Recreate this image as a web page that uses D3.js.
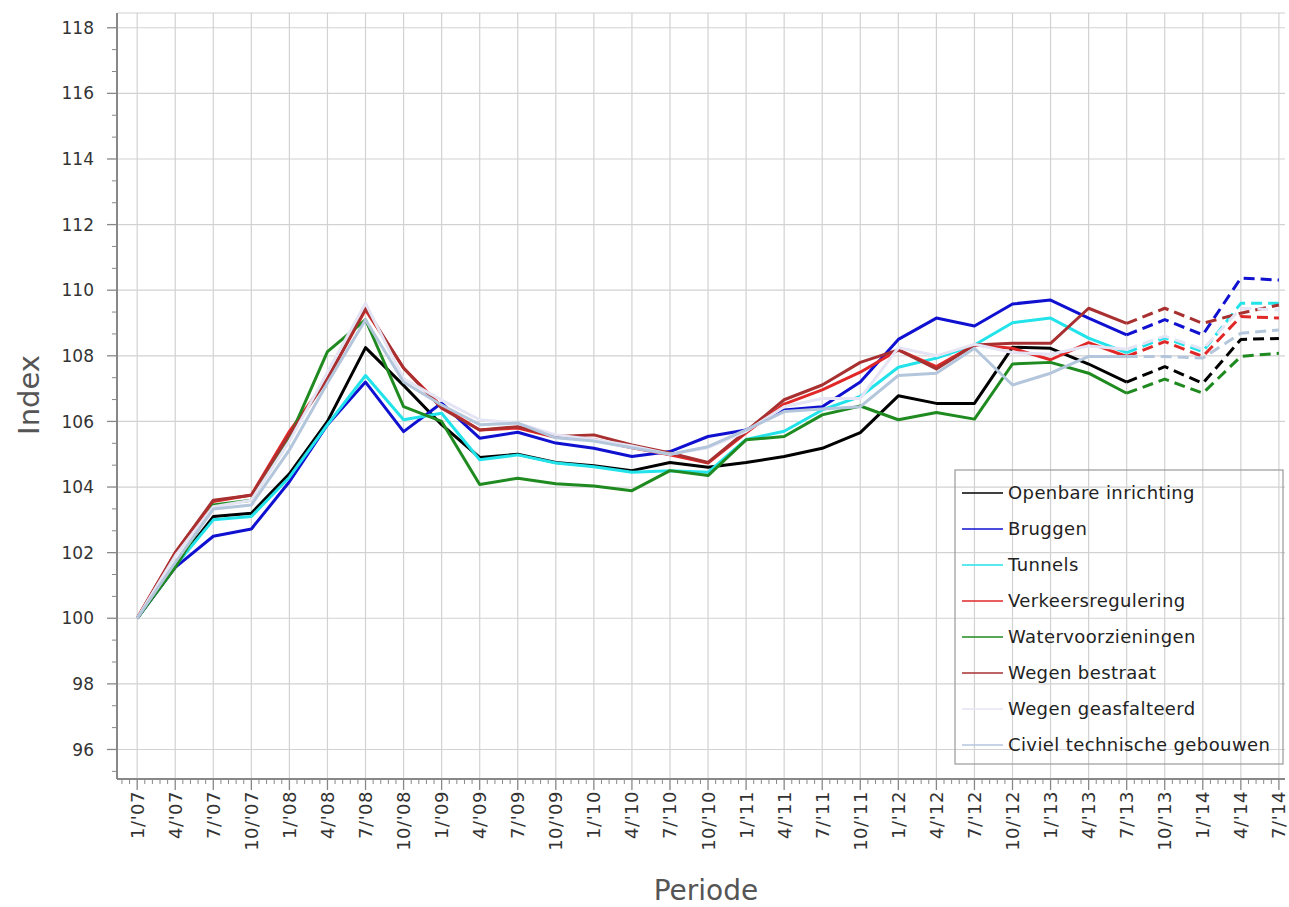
<!DOCTYPE html>
<html lang="nl">
<head>
<meta charset="UTF-8">
<title>Index per periode</title>
<script src="https://cdn.jsdelivr.net/npm/d3@7/dist/d3.min.js"></script>
<style>
  body { margin: 0; background: #fff; }
  svg { display: block; font-family: "DejaVu Sans", sans-serif; }
</style>
</head>
<body>
<svg width="1289" height="907"></svg>
<script>
// periods (quarterly)
var periods = ["1/'07","4/'07","7/'07","10/'07","1/'08","4/'08","7/'08","10/'08","1/'09","4/'09",
  "7/'09","10/'09","1/'10","4/'10","7/'10","10/'10","1/'11","4/'11","7/'11","10/'11",
  "1/'12","4/'12","7/'12","10/'12","1/'13","4/'13","7/'13","10/'13","1/'14","4/'14","7/'14"];

var seriesNames = ["Openbare inrichting","Bruggen","Tunnels","Verkeersregulering",
  "Watervoorzieningen","Wegen bestraat","Wegen geasfalteerd","Civiel technische gebouwen"];
var seriesColors = ["#000000","#1010d0","#22e2ea","#e02828","#1f8a1f","#a83030","#e4e4f4","#b4c6dc"];

var openbare = [100,101.6,103.1,103.2,104.4,106.0,108.25,107.1,105.9,104.9,105.0,104.75,104.65,104.5,104.75,104.6,
  104.75,104.93,105.18,105.66,106.78,106.55,106.55,108.26,108.23,107.75,107.2,107.67,107.16,108.5,108.53];
var bruggen = [100,101.55,102.5,102.72,104.16,105.9,107.2,105.69,106.56,105.49,105.67,105.34,105.18,104.93,105.08,105.54,
  105.74,106.35,106.45,107.2,108.5,109.15,108.91,109.58,109.7,109.15,108.64,109.1,108.64,110.37,110.31];
var tunnels = [100,101.6,103.0,103.1,104.3,105.9,107.4,106.05,106.25,104.83,104.98,104.73,104.62,104.45,104.5,104.45,
  105.45,105.7,106.35,106.76,107.65,107.93,108.33,109.01,109.15,108.54,108.1,108.55,108.13,109.6,109.6];
var verkeer = [100,102.0,103.56,103.76,105.7,107.3,109.4,107.63,106.45,105.74,105.8,105.52,105.45,105.2,104.98,104.73,
  105.65,106.53,106.96,107.5,108.18,107.67,108.33,108.23,107.88,108.4,107.98,108.43,107.98,109.2,109.15];
var water = [100,101.55,103.45,103.6,105.5,108.13,109.1,106.45,106.0,104.08,104.27,104.1,104.03,103.89,104.5,104.35,
  105.44,105.54,106.2,106.47,106.05,106.27,106.07,107.75,107.8,107.47,106.86,107.29,106.86,107.98,108.08];
var bestraat = [100,102.0,103.6,103.75,105.6,107.3,109.45,107.63,106.4,105.74,105.84,105.54,105.59,105.28,105.04,104.75,
  105.7,106.66,107.11,107.8,108.18,107.6,108.33,108.38,108.38,109.45,108.99,109.45,108.99,109.3,109.55];
var geasfalteerd = [100,101.9,103.4,103.6,105.4,107.5,109.6,107.3,106.65,106.05,105.95,105.59,105.45,105.25,105.0,105.2,
  105.7,106.45,106.7,106.7,108.25,108.0,108.35,108.1,108.05,108.3,108.2,108.6,108.2,109.45,109.4];
var civiel = [100,101.7,103.33,103.45,105.13,107.17,109.1,107.2,106.5,105.9,105.95,105.5,105.4,105.2,105.0,105.23,
  105.74,106.3,106.38,106.45,107.4,107.47,108.23,107.11,107.47,107.98,107.98,107.98,107.93,108.69,108.79];

var seriesValues = [openbare, bruggen, tunnels, verkeer, water, bestraat, geasfalteerd, civiel];
var yTicks = [96,98,100,102,104,106,108,110,112,114,116,118];
var dashFrom = 26; // from 7/'13 onwards the lines are dashed

var svg = d3.select("svg");
var pLeft = 117, pRight = 1285, pTop = 13, pBottom = 779;

var x = d3.scaleLinear().domain([-0.53, 30.16]).range([pLeft, pRight]);
var y = d3.scaleLinear().domain([95.1, 118.45]).range([pBottom, pTop]);

// grid
var grid = svg.append("g");
grid.selectAll(".hg").data(yTicks).enter().append("line")
  .attr("x1", pLeft).attr("x2", pRight)
  .attr("y1", d => y(d)).attr("y2", d => y(d))
  .attr("stroke", "#d2d2d2").attr("stroke-width", 1.2);
grid.selectAll(".vg").data(periods).enter().append("line")
  .attr("x1", (d, i) => x(i)).attr("x2", (d, i) => x(i))
  .attr("y1", pTop).attr("y2", pBottom)
  .attr("stroke", "#d2d2d2").attr("stroke-width", 1.2);
grid.append("line").attr("x1", pLeft).attr("x2", pRight).attr("y1", pTop).attr("y2", pTop)
  .attr("stroke", "#d0d0d0").attr("stroke-width", 1.2);

// minor ticks
var yMinor = d3.range(95 + 1/3, 118.45, 2/3).filter(v => Math.abs(v - Math.round(v / 2) * 2) > 0.1);
svg.append("g").selectAll("line").data(yMinor).enter().append("line")
  .attr("x1", pLeft - 5).attr("x2", pLeft)
  .attr("y1", d => y(d)).attr("y2", d => y(d))
  .attr("stroke", "#888").attr("stroke-width", 1);
var xMinor = d3.range(-0.4, 30.1, 0.2).filter(v => Math.abs(v - Math.round(v)) > 0.05);
svg.append("g").selectAll("line").data(xMinor).enter().append("line")
  .attr("x1", d => x(d)).attr("x2", d => x(d))
  .attr("y1", pBottom).attr("y2", pBottom + 5)
  .attr("stroke", "#888").attr("stroke-width", 1);

// y axis
svg.append("g").selectAll("line").data(yTicks).enter().append("line")
  .attr("x1", pLeft - 10).attr("x2", pLeft)
  .attr("y1", d => y(d)).attr("y2", d => y(d))
  .attr("stroke", "#888").attr("stroke-width", 1.3);
svg.append("g").selectAll("text").data(yTicks).enter().append("text")
  .attr("x", pLeft - 23).attr("y", d => y(d)).attr("dy", "0.36em")
  .attr("text-anchor", "end").attr("font-size", 17).attr("fill", "#333")
  .text(d => d);

// x axis
svg.append("g").selectAll("line").data(periods).enter().append("line")
  .attr("x1", (d, i) => x(i)).attr("x2", (d, i) => x(i))
  .attr("y1", pBottom).attr("y2", pBottom + 11)
  .attr("stroke", "#888").attr("stroke-width", 1.3);
svg.append("g").selectAll("text").data(periods).enter().append("text")
  .attr("transform", (d, i) => "translate(" + x(i) + "," + (pBottom + 12) + ") rotate(-90)")
  .attr("dy", "0.36em").attr("text-anchor", "end")
  .attr("font-size", 18).attr("letter-spacing", 0.5).attr("fill", "#333")
  .text(d => d);

svg.append("line").attr("x1", pLeft).attr("x2", pLeft).attr("y1", pTop).attr("y2", pBottom)
  .attr("stroke", "#888").attr("stroke-width", 2);
svg.append("line").attr("x1", pLeft).attr("x2", pRight).attr("y1", pBottom).attr("y2", pBottom)
  .attr("stroke", "#888").attr("stroke-width", 2);

// axis titles
svg.append("text").attr("transform", "translate(39,395) rotate(-90)")
  .attr("text-anchor", "middle").attr("font-size", 29).attr("fill", "#555").text("Index");
svg.append("text").attr("x", 706).attr("y", 900)
  .attr("text-anchor", "middle").attr("font-size", 28).attr("fill", "#555").text("Periode");

// lines
var line = d3.line().x(d => x(d.i)).y(d => y(d.v));
seriesValues.forEach(function (vals, s) {
  var pts = vals.map((v, i) => ({i: i, v: v}));
  var g = svg.append("g");
  g.append("path").datum(pts.slice(0, dashFrom + 1))
    .attr("fill", "none").attr("stroke", seriesColors[s])
    .attr("stroke-width", 3).attr("stroke-linejoin", "round")
    .attr("d", line);
  g.append("path").datum(pts.slice(dashFrom))
    .attr("fill", "none").attr("stroke", seriesColors[s])
    .attr("stroke-width", 3).attr("stroke-linejoin", "round")
    .attr("stroke-dasharray", "11,6")
    .attr("d", line);
});

// legend
var lg = svg.append("g").attr("transform", "translate(955,470)");
lg.append("rect").attr("width", 328).attr("height", 294)
  .attr("fill", "none").attr("stroke", "#9a9a9a").attr("stroke-width", 1.2);
var item = lg.selectAll(".item").data(seriesNames).enter().append("g")
  .attr("transform", (d, i) => "translate(0," + (23 + i * 36) + ")");
item.append("line").attr("x1", 7).attr("x2", 48)
  .attr("stroke", (d, i) => seriesColors[i]).attr("stroke-width", 1.6);
item.append("text").attr("x", 53).attr("dy", "0.36em")
  .attr("font-size", 18).attr("letter-spacing", 0.4).attr("fill", "#222").text(d => d);
</script>
</body>
</html>
